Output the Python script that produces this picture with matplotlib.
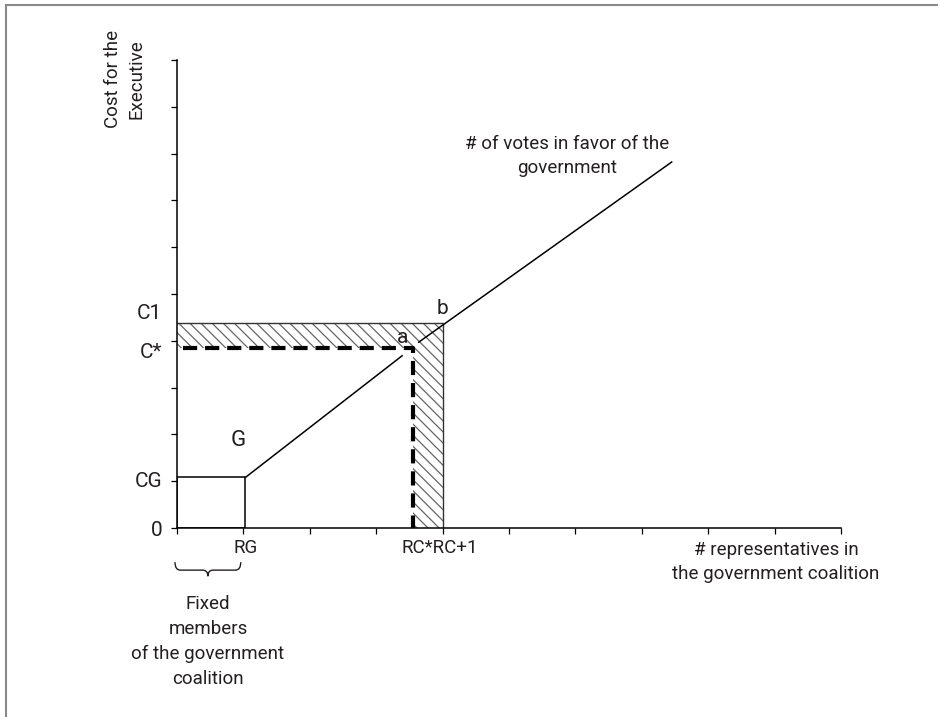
import matplotlib
matplotlib.use('Agg')
import matplotlib.pyplot as plt
from matplotlib.path import Path
from matplotlib.patches import PathPatch, Rectangle, Polygon

plt.rcParams['font.family'] = ['Liberation Sans Narrow', 'Roboto', 'DejaVu Sans']
plt.rcParams['hatch.linewidth'] = 0.9

# values (axis units 0..10)
RG, CG = 1.03, 1.08
RC_star, C_star = 3.55, 3.85
RC1, C1 = 4.0, 4.38
lower_x = [RG, 3.39]
lower_y = [CG, 3.68]
upper_x = [3.64, 7.45]
upper_y = [3.97, 7.82]
ticks = list(range(11))

y_labels = ['0', 'CG', 'C*', 'C1']
y_label_pos = [-0.06, 1.0, 3.74, 4.59]

txt = '#231f20'

fig = plt.figure(figsize=(9.38, 7.17), dpi=100)
ax = fig.add_axes([177 / 938, 1 - 528 / 717, 664 / 938, 468 / 717])
ax.set_xlim(0, 10)
ax.set_ylim(0, 10)
for s in ['top', 'right']:
    ax.spines[s].set_visible(False)
for s in ['left', 'bottom']:
    ax.spines[s].set_linewidth(1.1)
ax.set_xticks(ticks)
ax.set_yticks(ticks)
ax.set_xticklabels([])
ax.set_yticklabels([])
ax.tick_params(length=4.5, width=0.9, direction='out')

# hatched L-shaped area between C*/RC* and C1/RC+1
hatch_pts = [(0, C1), (RC1, C1), (RC1, 0), (RC_star, 0), (RC_star, C_star), (0, C_star)]
ax.add_patch(Polygon(hatch_pts, closed=True, facecolor='none', edgecolor='#666666',
                     hatch='\\\\\\', linewidth=0))
ax.plot([0, RC1, RC1], [C1, C1, 0], color='#333333', lw=1.0)

# fixed members box
ax.add_patch(Rectangle((0, 0), RG, CG, facecolor='none', edgecolor='black', lw=1.1))

# dashed C* / RC* lines
ax.plot([0.09, RC_star, RC_star], [C_star, C_star, 0], color='black', lw=3,
        dashes=(3.4, 1.9), solid_joinstyle='miter')

# votes lines
ax.plot(lower_x, lower_y, color='black', lw=1.1)
ax.plot(upper_x, upper_y, color='black', lw=1.1)

# labels on the y side
for lab, yv in zip(y_labels, y_label_pos):
    ax.text(-0.22, yv, lab, ha='right', va='center', fontsize=15, color=txt, clip_on=False)

ax.text(3.40, 4.08, 'a', ha='center', va='center', fontsize=15, color=txt)
ax.text(4.0, 4.68, 'b', ha='center', va='center', fontsize=15, color=txt)
ax.text(0.92, 1.88, 'G', ha='center', va='center', fontsize=16, color=txt)

ax.text(RG, -0.43, 'RG', ha='center', va='center', fontsize=13.5, color=txt, clip_on=False)
ax.text(3.95, -0.43, 'RC*RC+1', ha='center', va='center', fontsize=13.5, color=txt, clip_on=False)
ax.text(9.02, -0.73, '# representatives in\nthe government coalition', ha='center', va='center',
        fontsize=13.5, color=txt, linespacing=1.4, clip_on=False)
ax.text(5.87, 7.95, '# of votes in favor of the\ngovernment', ha='center', va='center',
        fontsize=13.5, color=txt, linespacing=1.4)

# brace under the fixed members
x0, x1 = -0.03, RG - 0.07
xm = (x0 + x1) / 2
yt, yb, yp = -0.73, -0.90, -1.03
codes = [Path.MOVETO, Path.CURVE3, Path.CURVE3, Path.LINETO, Path.CURVE3, Path.CURVE3,
         Path.CURVE3, Path.CURVE3, Path.LINETO, Path.CURVE3, Path.CURVE3]
verts = [(x0, yt), (x0, yb), (x0 + 0.08, yb), (xm - 0.08, yb), (xm, yb), (xm, yp),
         (xm, yb), (xm + 0.08, yb), (x1 - 0.08, yb), (x1, yb), (x1, yt)]
ax.add_patch(PathPatch(Path(verts, codes), facecolor='none', edgecolor=txt, lw=1.0, clip_on=False))
ax.text(xm, -2.42, 'Fixed\nmembers\nof the government\ncoalition', ha='center', va='center',
        fontsize=13.5, color=txt, linespacing=1.5, clip_on=False)

fig.text(125 / 938, 1 - 79 / 717, 'Cost for the\nExecutive', rotation=90, ha='center',
         va='center', fontsize=13.5, color=txt, linespacing=1.4)

# thin grey frame (left and top edges visible)
fig.add_artist(Rectangle((6 / 938, -0.1), 1.2, 1 - 5 / 717 + 0.1, transform=fig.transFigure,
                         facecolor='none', edgecolor='#8a8a8a', lw=1.5))

fig.savefig('out.png', dpi=100)
